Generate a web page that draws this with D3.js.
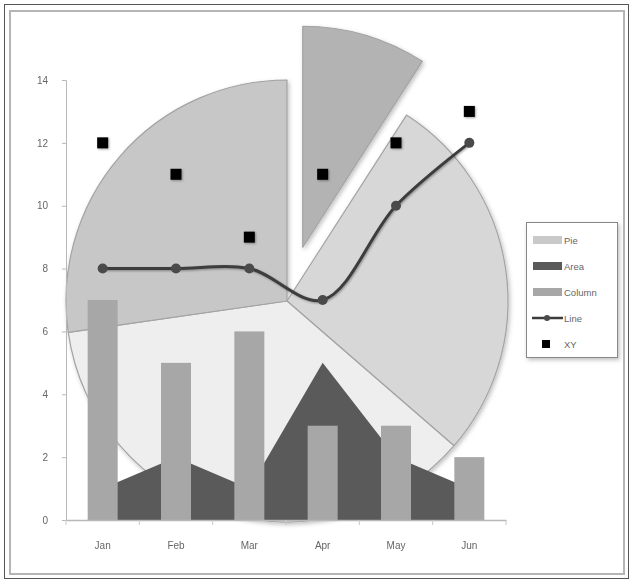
<!DOCTYPE html>
<html><head><meta charset="utf-8">
<script src="https://cdn.jsdelivr.net/npm/d3@7"></script>
<style>body{margin:0;background:#fff}svg{display:block}text{font-family:"Liberation Sans",Arial,sans-serif}</style>
</head><body>
<script>
const months = ["Jan","Feb","Mar","Apr","May","Jun"];
const pieValues = [1,3,4,3];
const pieLabels = ["Jan","Feb","Mar","Apr"];
const areaValues = [1,2,1,5,2,1];
const columnValues = [7,5,6,3,3,2];
const lineValues = [8,8,8,7,10,12];
const xyValues = [12,11,9,11,12,13];
const yTicks = [0,2,4,6,8,10,12,14];
const legendLabels = ["Pie","Area","Column","Line","XY"];

const W=633,H=583;
const svg=d3.select("body").append("svg").attr("width",W).attr("height",H);
const defs=svg.append("defs");
const sh=defs.append("filter").attr("id","sh").attr("x","-20%").attr("y","-20%").attr("width","140%").attr("height","140%");
sh.append("feDropShadow").attr("dx",1.5).attr("dy",2).attr("stdDeviation",2).attr("flood-color","#000").attr("flood-opacity",0.25);
const sh2=defs.append("filter").attr("id","sh2").attr("x","-50%").attr("y","-50%").attr("width","200%").attr("height","200%");
sh2.append("feDropShadow").attr("dx",1).attr("dy",1).attr("stdDeviation",1.2).attr("flood-color","#000").attr("flood-opacity",0.35);

// frame
svg.append("rect").attr("x",4.5).attr("y",4.5).attr("width",624).attr("height",574).attr("fill","#fff").attr("stroke","#555").attr("stroke-width",1);
svg.append("rect").attr("x",10).attr("y",11).attr("width",614).attr("height",563).attr("fill","none").attr("stroke","#b5b5b5").attr("stroke-width",2);

const x=d3.scaleBand().domain(months).range([66,506]).paddingInner(0).paddingOuter(0);
const y=d3.scaleLinear().domain([0,14]).range([520,80]);
const cx=m=>x(m)+x.bandwidth()/2;

// pie
const pieCx=287,pieCy=301,R=221,explode=56;
const pieColors=["#b3b3b3","#d7d7d7","#eeeeee","#c7c7c7"];
const arcs=d3.pie().sort(null)(pieValues);
const arc=d3.arc().innerRadius(0).outerRadius(R);
const pg=svg.append("g").attr("filter","url(#sh)");
arcs.forEach((a,i)=>{
  let dx=0,dy=0;
  if(i===0){const m=(a.startAngle+a.endAngle)/2;dx=Math.sin(m)*explode;dy=-Math.cos(m)*explode;}
  pg.append("path").attr("d",arc(a)).attr("transform",`translate(${pieCx+dx},${pieCy+dy})`)
    .attr("fill",pieColors[i]).attr("stroke","#a3a3a3").attr("stroke-width",1.2).attr("stroke-linejoin","round");
});

// axes
const axY=svg.append("g").attr("transform","translate(66,0)").call(d3.axisLeft(y).tickValues(yTicks).tickSize(4).tickPadding(14).tickFormat(d3.format("d")));
axY.select(".domain").attr("stroke","#b8b8b8");
axY.selectAll(".tick line").attr("stroke","#b8b8b8");
axY.selectAll("text").attr("fill","#666").attr("font-size",10);

// area
const area=d3.area().x((d,i)=>cx(months[i])).y0(y(0)).y1(d=>y(d));
svg.append("path").datum(areaValues).attr("d",area).attr("fill","#5a5a5a");

// columns
const colW=30;
svg.append("g").selectAll("rect").data(columnValues).join("rect")
  .attr("x",(d,i)=>cx(months[i])-colW/2).attr("width",colW)
  .attr("y",d=>y(d)).attr("height",d=>y(0)-y(d)).attr("fill","#a7a7a7");

// x axis
const axX=svg.append("g").attr("transform","translate(0,520)").call(d3.axisBottom(x).tickSize(0).tickPadding(22));
axX.select(".domain").attr("stroke","#b8b8b8").attr("stroke-width",1.5);
axX.selectAll("text").attr("fill","#666").attr("font-size",10);
svg.append("g").selectAll("line").data(d3.range(months.length+1)).join("line")
  .attr("x1",i=>66+i*x.step()).attr("x2",i=>66+i*x.step()).attr("y1",520).attr("y2",525).attr("stroke","#c8c8c8");

// line
const line=d3.line().x((d,i)=>cx(months[i])).y(d=>y(d)).curve(d3.curveCatmullRom.alpha(0.5));
svg.append("path").datum(lineValues).attr("d",line).attr("fill","none").attr("stroke","#3c3c3c").attr("stroke-width",3).attr("filter","url(#sh2)");
svg.append("g").selectAll("circle").data(lineValues).join("circle")
  .attr("cx",(d,i)=>cx(months[i])).attr("cy",d=>y(d)).attr("r",5).attr("fill","#4a4a4a");

// xy
const sq=11;
svg.append("g").attr("filter","url(#sh2)").selectAll("rect").data(xyValues).join("rect")
  .attr("x",(d,i)=>cx(months[i])-sq/2).attr("y",d=>y(d)-sq/2).attr("width",sq).attr("height",sq).attr("fill","#000");

// legend
const lg=svg.append("g");
lg.append("rect").attr("x",526.5).attr("y",222.5).attr("width",91).attr("height",135).attr("fill","#fff").attr("stroke","#888").attr("filter","url(#sh)");
const ly=[240,266,292,318,344];
legendLabels.forEach((t,i)=>{
  const yy=ly[i];
  if(i===0||i===1||i===2){
    lg.append("rect").attr("x",533).attr("y",yy-4).attr("width",29).attr("height",8).attr("fill",["#c9c9c9","#5a5a5a","#a7a7a7"][i]);
  } else if(i===3){
    lg.append("line").attr("x1",532).attr("x2",563).attr("y1",yy).attr("y2",yy).attr("stroke","#3c3c3c").attr("stroke-width",2.5);
    lg.append("circle").attr("cx",547).attr("cy",yy).attr("r",3).attr("fill","#4a4a4a");
  } else {
    lg.append("rect").attr("x",542).attr("y",yy-4).attr("width",8).attr("height",8).attr("fill","#000");
  }
  lg.append("text").attr("x",564).attr("y",yy+3.5).attr("font-size",9.5).attr("fill","#666").text(t);
});
</script>
</body></html>
